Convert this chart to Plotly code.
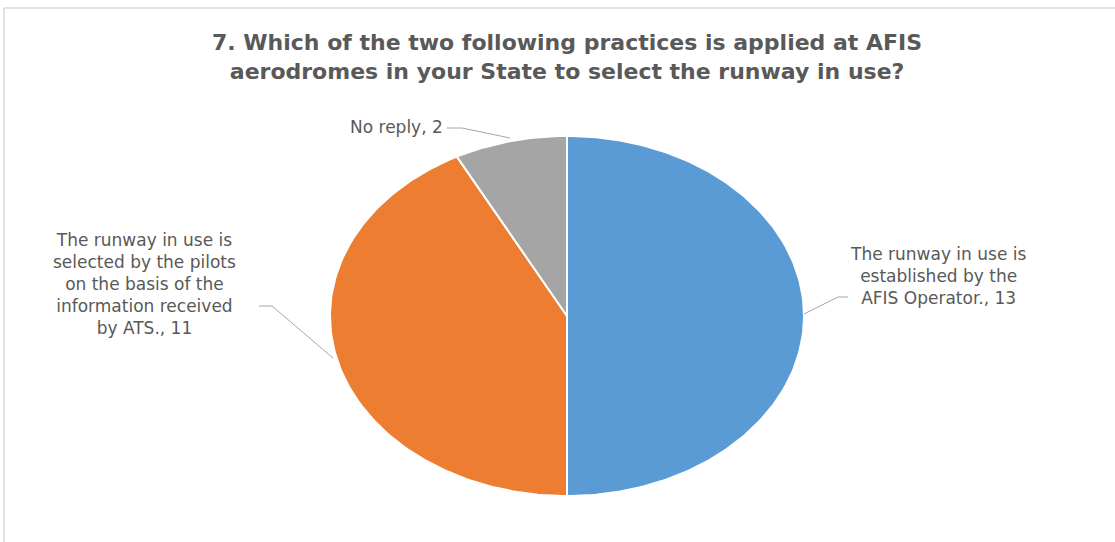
import math
import plotly.graph_objects as go

# Survey responses
categories = [
    "The runway in use is<br>established by the<br>AFIS Operator.",
    "The runway in use is<br>selected by the pilots<br>on the basis of the<br>information received<br>by ATS.",
    "No reply",
]
values = [13, 11, 2]
colors = ["#5b9bd5", "#ed7d31", "#a5a5a5"]

title_text = ("7. Which of the two following practices is applied at AFIS<br>"
              "aerodromes in your State to select the runway in use?")

W, H = 1115, 542
CX, CY = 567, 316      # pie centre (px)
RX, RY = 237, 180      # pie radii (px)

# axis ranges so that the unit circle maps onto the pie ellipse
x_range = [(0 - CX) / RX, (W - CX) / RX]
y_range = [(CY - H) / RY, CY / RY]


def px_to_paper(x, y):
    return x / W, 1 - y / H


fig = go.Figure()

total = sum(values)
start = 0.0
for cat, val, col in zip(categories, values, colors):
    span = val / total * 2 * math.pi
    n = max(8, int(span / (2 * math.pi) * 360))
    xs, ys = [0.0], [0.0]
    for i in range(n + 1):
        a = start + span * i / n
        xs.append(math.sin(a))
        ys.append(math.cos(a))
    xs.append(0.0)
    ys.append(0.0)
    fig.add_trace(go.Scatter(
        x=xs, y=ys, mode="lines", fill="toself", fillcolor=col,
        line=dict(color="white", width=2), hoverinfo="skip",
        showlegend=False,
    ))
    start += span

text_color = "#595959"
font_family = "DejaVu Sans, Verdana, sans-serif"

# data labels
label_specs = [
    # (x, y, xanchor, align)
    (938, 276, "center", "center"),
    (145, 284, "center", "center"),
    (445, 127, "right", "right"),
]
for (lx, ly, xa, al), cat, val in zip(label_specs, categories, values):
    px, py = px_to_paper(lx, ly)
    fig.add_annotation(
        x=px, y=py, xref="paper", yref="paper", showarrow=False,
        text=f"{cat}, {val}", xanchor=xa, yanchor="middle", align=al,
        font=dict(family=font_family, size=17, color=text_color),
    )

# leader lines (px polylines)
leaders = [
    [(804, 314), (838, 297), (848, 297)],
    [(333, 358), (272, 306), (259, 306)],
    [(510, 138), (462, 128), (447, 128)],
]
for pts in leaders:
    for (x0, y0), (x1, y1) in zip(pts[:-1], pts[1:]):
        a0, b0 = px_to_paper(x0, y0)
        a1, b1 = px_to_paper(x1, y1)
        fig.add_shape(type="line", xref="paper", yref="paper",
                      x0=a0, y0=b0, x1=a1, y1=b1,
                      line=dict(color="#a6a6a6", width=1))

# chart border (top and left edges visible)
for (x0, y0), (x1, y1) in [((4, 8), (W + 5, 8)), ((4, 8), (4, H + 5))]:
    a0, b0 = px_to_paper(x0, y0)
    a1, b1 = px_to_paper(x1, y1)
    fig.add_shape(type="line", xref="paper", yref="paper",
                  x0=a0, y0=b0, x1=a1, y1=b1,
                  line=dict(color="#d9d9d9", width=1.5))

tx, ty = px_to_paper(CX, 57)
fig.add_annotation(
    x=tx, y=ty, xref="paper", yref="paper", showarrow=False,
    text=f"<b>{title_text}</b>", xanchor="center", yanchor="middle",
    align="center",
    font=dict(family=font_family, size=22, color=text_color),
)

fig.update_layout(
    width=W, height=H, autosize=False,
    margin=dict(l=0, r=0, t=0, b=0),
    paper_bgcolor="white", plot_bgcolor="white",
    xaxis=dict(range=x_range, visible=False, fixedrange=True),
    yaxis=dict(range=y_range, visible=False, fixedrange=True),
    showlegend=False,
)

fig.write_html("out.html")
